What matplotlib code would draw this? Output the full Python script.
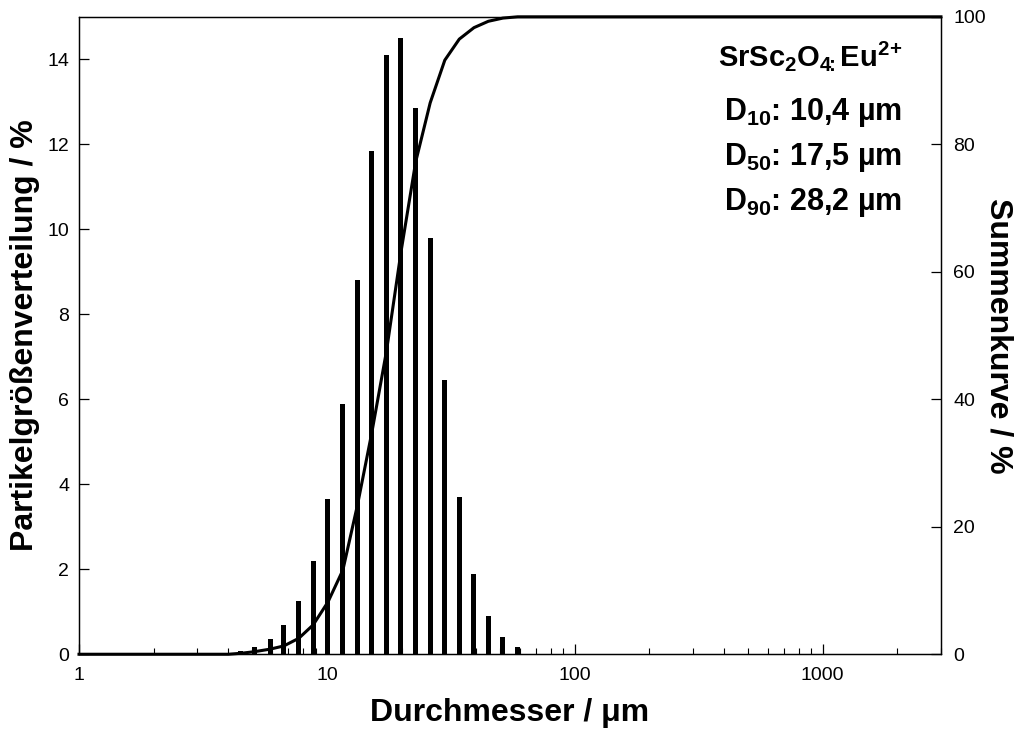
import numpy as np
import matplotlib
matplotlib.use("Agg")
import matplotlib.pyplot as plt

plt.rcParams['font.family'] = ['Liberation Sans', 'DejaVu Sans']
plt.rcParams['mathtext.fontset'] = 'custom'
plt.rcParams['mathtext.rm'] = 'Liberation Sans:bold'
plt.rcParams['mathtext.it'] = 'Liberation Sans:bold'
plt.rcParams['mathtext.bf'] = 'Liberation Sans:bold'
plt.rcParams['mathtext.default'] = 'rm'

# particle size classes (µm) and distribution (%)
diameter = [4.5, 5.1, 5.9, 6.7, 7.7, 8.8, 10.1, 11.6, 13.3, 15.2,
            17.4, 19.9, 22.8, 26.1, 29.9, 34.2, 39.2, 44.8, 51.3, 58.8]
verteilung = [0.08, 0.17, 0.36, 0.68, 1.26, 2.2, 3.65, 5.9, 8.8, 11.85,
              14.1, 14.5, 12.85, 9.8, 6.45, 3.7, 1.9, 0.89, 0.40, 0.16]

# cumulative curve (%)
curve_d = [1, 4.0, 4.5, 5.1, 5.9, 6.7, 7.7, 8.8, 10.1, 11.6, 13.3, 15.2,
           17.4, 19.9, 22.8, 26.1, 29.9, 34.2, 39.2, 44.8, 51.3, 58.8, 70, 3000]
summe = [0, 0, 0.15, 0.4, 0.8, 1.3, 2.5, 4.6, 8.2, 13.2, 23.5, 34.9,
         47.6, 63.1, 77.2, 86.5, 93.2, 96.5, 98.3, 99.3, 99.8, 100, 100, 100]

fig = plt.figure(figsize=(10.22, 7.31), dpi=100)
ax = fig.add_axes([0.0773, 0.105, 0.8434, 0.872])
ax2 = ax.twinx()

d = np.array(diameter)
half = 0.01  # bar half width in decades
left = d * 10 ** (-half)
width = d * 10 ** half - left
ax.bar(left, verteilung, width=width, align='edge', color='black', linewidth=0)

ax2.plot(curve_d, summe, color='black', lw=2.2, clip_on=False, zorder=5)

ax.set_xscale('log')
ax.set_xlim(1, 3000)
ax.set_ylim(0, 15)
ax2.set_ylim(0, 100)
ax.set_yticks(range(0, 15, 2))
ax2.set_yticks(range(0, 101, 20))
ax.set_xticks([1, 10, 100, 1000])
ax.set_xticklabels(['1', '10', '100', '1000'])

for a in (ax, ax2):
    for s in a.spines.values():
        s.set_linewidth(0.9)
ax.tick_params(axis='both', which='major', direction='in', length=7, width=0.9,
               labelsize=14, pad=7)
ax.tick_params(axis='x', which='minor', direction='in', length=4, width=0.8)
ax.tick_params(axis='x', which='major', pad=9)
ax2.tick_params(axis='y', direction='in', length=7, width=0.9, labelsize=14, pad=9)

ax.set_xlabel('Durchmesser / μm', fontsize=23, fontweight='bold', labelpad=10)
ax.set_ylabel('Partikelgrößenverteilung / %', fontsize=23, fontweight='bold', labelpad=5)
ax2.set_ylabel('Summenkurve / %', fontsize=23, fontweight='bold', rotation=-90,
               labelpad=20)

tx = 0.955
ax.text(tx, 0.965, r'SrSc$_2$O$_{4\!\!:}$Eu$^{2\!+}$', transform=ax.transAxes,
        ha='right', va='top', fontsize=21, fontweight='bold')
ax.text(tx, 0.875, r'D$_{10}$: 10,4 µm', transform=ax.transAxes,
        ha='right', va='top', fontsize=22, fontweight='bold')
ax.text(tx, 0.805, r'D$_{50}$: 17,5 µm', transform=ax.transAxes,
        ha='right', va='top', fontsize=22, fontweight='bold')
ax.text(tx, 0.735, r'D$_{90}$: 28,2 µm', transform=ax.transAxes,
        ha='right', va='top', fontsize=22, fontweight='bold')

fig.savefig('out.png', dpi=100)
